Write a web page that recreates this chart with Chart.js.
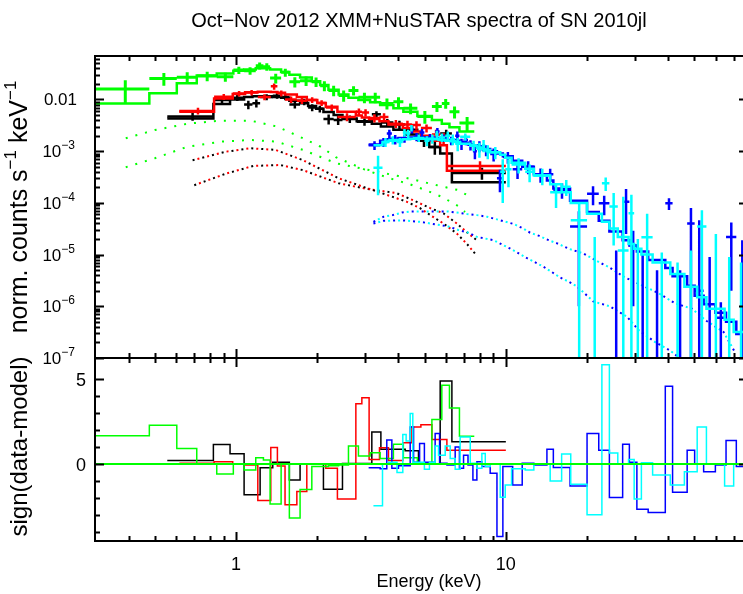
<!DOCTYPE html>
<html>
<head>
<meta charset="utf-8">
<title>SN 2010jl spectra</title>
<script src="https://cdn.jsdelivr.net/npm/chart.js@4.4.0/dist/chart.umd.min.js"></script>
<style>
  body { margin: 0; background: #fff; }
  #wrap { position: relative; width: 743px; height: 594px; overflow: hidden; background: #fff; }
  #wrap canvas { position: absolute; left: 0; top: 0; }
</style>
</head>
<body>
<div id="wrap">
  <canvas id="spec" width="748" height="594"></canvas>
  <canvas id="resid" width="748" height="594"></canvas>
</div>
<script>
// ---- XMM MOS1 (black) ----
const mos1Edges = [0.556, 0.824, 0.950, 1.071, 1.15, 1.228, 1.368, 1.47, 1.576, 1.727, 1.85, 1.98, 2.108, 2.3, 2.48, 2.8, 3.186, 3.442, 3.83, 4.236, 4.745, 5.2, 5.71, 6.31, 10.0];
const mos1Rate = [4.7e-3, 9.8e-3, 0.0108, 8.0e-3, 8.5e-3, 0.0112, 0.0118, 0.0112, 8.0e-3, 9.0e-3, 7.0e-3, 6.6e-3, 4.2e-3, 4.0e-3, 4.2e-3, 3.7e-3, 5.2e-3, 3.6e-3, 3.3e-3, 2.6e-3, 1.6e-3, 1.2e-3, 2.2e-3, 3.8e-4];
const mos1Err = [8e-4, 1.4e-3, 1.4e-3, 1.5e-3, 1.5e-3, 1.5e-3, 1.5e-3, 1.5e-3, 1.3e-3, 1.3e-3, 1.1e-3, 1e-3, 9e-4, 8e-4, 7e-4, 6e-4, 7e-4, 6e-4, 6e-4, 5e-4, 4e-4, 3.5e-4, 4e-4, 1e-4];
const mos1Model = [4.3e-3, 8.2e-3, 0.0100, 0.0112, 0.0115, 0.0115, 0.0112, 0.0108, 9.5e-3, 8.5e-3, 7.5e-3, 6.6e-3, 5.7e-3, 5.0e-3, 4.3e-3, 3.8e-3, 3.4e-3, 3.0e-3, 2.6e-3, 2.1e-3, 1.6e-3, 1.2e-3, 9e-4, 2.5e-4];
const mos1Resid = [0.2, 1.14, 0.6, -1.8, -1.8, -0.21, 0.1, 0.1, -0.93, 0.02, 0.02, 0.02, -1.47, -1.47, 0.03, 0.03, 1.88, 0.87, 0.87, 0.77, 0.02, 0.02, 4.85, 1.3];

// ---- XMM MOS2 (red) ----
const mos2Edges = [0.616, 0.829, 0.972, 1.080, 1.204, 1.345, 1.423, 1.519, 1.680, 1.829, 2.0, 2.151, 2.375, 2.780, 2.926, 3.113, 3.401, 3.672, 4.152, 4.485, 4.843, 5.320, 5.710, 6.046, 10.0];
const mos2Rate = [6.0e-3, 0.0113, 0.0130, 0.0136, 0.0112, 0.0180, 0.0132, 0.0100, 0.0095, 0.0098, 0.0086, 0.0070, 0.0046, 0.0058, 0.0056, 0.0044, 0.0046, 0.0034, 0.0033, 0.0032, 0.0028, 0.0021, 0.0018, 5.2e-4];
const mos2Err = [9e-4, 1.5e-3, 1.6e-3, 1.6e-3, 1.5e-3, 2.5e-3, 1.8e-3, 1.4e-3, 1.3e-3, 1.2e-3, 1.1e-3, 1e-3, 8e-4, 9e-4, 9e-4, 8e-4, 8e-4, 6e-4, 6e-4, 6e-4, 5e-4, 5e-4, 4.5e-4, 1.2e-4];
const mos2Model = [5.8e-3, 0.0105, 0.0128, 0.0138, 0.0142, 0.0140, 0.0135, 0.0125, 0.0112, 0.0098, 0.0086, 0.0072, 0.0058, 0.0049, 0.0045, 0.0042, 0.0038, 0.0033, 0.0028, 0.0024, 0.0020, 0.0016, 0.0013, 4.2e-4];
const mos2Resid = [0.05, 0.14, 0.0, -0.06, -2.13, 0.97, -0.12, -2.38, -1.6, 0.0, 0.0, -0.25, -2.05, 3.53, 3.88, 0.27, 0.95, 0.2, 1.24, 2.17, 2.3, 1.44, 1.44, 0.8];

// ---- XMM pn (green) ----
const pnEdges = [0.30, 0.477, 0.603, 0.715, 0.848, 0.977, 1.071, 1.183, 1.263, 1.337, 1.469, 1.576, 1.727, 1.909, 2.05, 2.2, 2.4, 2.61, 2.842, 3.14, 3.42, 3.83, 4.17, 4.70, 5.32, 5.79, 6.18, 6.73, 7.64];
const pnRate = [0.0160, 0.0255, 0.0270, 0.0285, 0.0275, 0.0370, 0.0360, 0.0450, 0.0430, 0.0260, 0.0335, 0.0220, 0.0230, 0.0220, 0.0185, 0.0150, 0.0120, 0.0150, 0.0110, 0.0110, 0.0084, 0.0090, 0.0068, 0.0047, 0.0073, 0.0084, 0.0058, 0.0035];
const pnErr = [0.0075, 0.0070, 0.0065, 0.0060, 0.0055, 0.0060, 0.0060, 0.0070, 0.0070, 0.0055, 0.0060, 0.0050, 0.0048, 0.0045, 0.0040, 0.0035, 0.0030, 0.0030, 0.0025, 0.0025, 0.0020, 0.0020, 0.0016, 0.0013, 0.0016, 0.0018, 0.0015, 0.0011];
const pnModel = [0.0084, 0.0132, 0.0206, 0.0290, 0.0320, 0.0360, 0.0380, 0.0400, 0.0400, 0.0380, 0.0340, 0.0300, 0.0265, 0.0225, 0.0190, 0.0155, 0.0125, 0.0108, 0.0098, 0.0088, 0.0078, 0.0068, 0.0058, 0.0048, 0.0040, 0.0034, 0.0029, 0.0024];
const pnResid = [1.65, 2.27, 0.91, 0.02, -0.58, 0.02, -0.35, 0.37, 0.23, -2.33, 0.02, -3.16, -1.49, -0.15, -0.15, -0.1, -0.06, 1.05, 0.47, 0.66, 0.33, 1.16, 0.37, 0.02, 2.6, 4.6, 3.27, 1.63];

// ---- NuSTAR FPMA (blue) ----
const fpmaEdges = [3.10, 3.42, 3.62, 3.78, 4.00, 4.42, 4.55, 4.79, 4.99, 5.47, 5.68, 6.05, 6.49, 6.73, 6.97, 7.24, 7.55, 7.81, 8.15, 8.75, 9.27, 9.75, 10.6, 11.5, 12.7, 14.2, 15.0, 17.3, 20.0, 22.1, 24.2, 27.1, 28.7, 30.6, 33.7, 39.0, 41.5, 47.0, 50.1, 54.1, 59.8, 65.5, 71.5, 79];
const fpmaRate = [1.3e-3, 1.5e-3, 2.2e-3, 1.7e-3, 1.75e-3, 2.6e-3, 1.9e-3, 2.3e-3, 1.85e-3, 2.4e-3, 1.8e-3, 1.6e-3, 2.0e-3, 1.4e-3, 1.65e-3, 1.33e-3, 1.0e-3, 1.25e-3, 1.05e-3, 8.8e-4, 3e-4, 7.7e-4, 4.5e-4, 5e-4, 3.55e-4, 3.6e-4, 1.8e-4, 3.5e-5, 1.5e-4, 9.8e-5, -1e-5, 1.05e-4, 1.5e-5, -1e-5, -1e-5, 9.8e-5, -5e-6, 4e-5, 2e-6, -1e-6, 6e-7, 2.2e-5, -1e-6];
const fpmaErr = [2.5e-4, 3e-4, 4e-4, 3.5e-4, 3e-4, 4e-4, 3.5e-4, 4e-4, 3e-4, 4e-4, 3e-4, 3e-4, 4e-4, 3.5e-4, 3.5e-4, 3e-4, 3e-4, 3e-4, 2.5e-4, 2.5e-4, 1.4e-4, 2e-4, 1.6e-4, 1.4e-4, 1.1e-4, 1e-4, 6e-5, 3.4e-5, 6e-5, 4e-5, 2.2e-5, 8e-5, 1.4e-5, 2e-5, 1.5e-5, 2.5e-5, 1e-5, 4e-5, 4.4e-5, 1e-5, 6e-7, 2e-5, 2e-5];
const fpmaModel = [1.35e-3, 1.6e-3, 1.7e-3, 1.75e-3, 1.8e-3, 1.85e-3, 1.85e-3, 1.85e-3, 1.8e-3, 1.8e-3, 1.75e-3, 1.65e-3, 1.6e-3, 1.5e-3, 1.45e-3, 1.35e-3, 1.3e-3, 1.2e-3, 1.1e-3, 1.0e-3, 9e-4, 8e-4, 6.5e-4, 5e-4, 3.6e-4, 2.7e-4, 1.9e-4, 1.1e-4, 6.7e-5, 4.5e-5, 2.8e-5, 1.9e-5, 1.5e-5, 1.15e-5, 7.9e-6, 5.5e-6, 3.8e-6, 2.5e-6, 1.6e-6, 1.1e-6, 7.5e-7, 5e-7, 2.9e-7];
const fpmaResid = [-0.21, -0.27, 1.4, -0.25, -0.1, 2.17, 0.1, 1.2, 0.1, 1.78, 0.05, -0.05, 1.0, -0.25, 0.52, -0.06, -0.93, 0.14, -0.15, -0.54, -4.23, -0.15, -1.22, 0.05, -0.05, 0.87, -0.2, -1.28, 1.78, 0.81, -1.96, 1.16, 0.1, -2.64, -2.83, 4.55, -1.65, 0.81, 0.0, -0.45, -0.06, 1.38, -0.15];

// ---- NuSTAR FPMB (cyan) ----
const fpmbEdges = [3.23, 3.49, 3.67, 3.95, 4.15, 4.27, 4.42, 4.52, 4.99, 5.21, 5.47, 5.63, 5.96, 6.22, 6.49, 6.77, 7.38, 7.81, 8.15, 8.39, 8.75, 9.53, 9.95, 10.5, 11.8, 12.7, 14.6, 16.1, 17.4, 20.0, 22.7, 24.2, 26.0, 28.5, 29.9, 31.8, 35.0, 40.7, 45.9, 51.2, 55.4, 64.7, 69.9, 79];
const fpmbRate = [4.8e-4, 1.5e-3, 1.65e-3, 1.5e-3, 2.3e-3, 2.2e-3, 2.8e-3, 1.8e-3, 1.6e-3, 1.75e-3, 2.1e-3, 1.85e-3, 2.0e-3, 1.7e-3, 1.4e-3, 1.9e-3, 1.3e-3, 1.1e-3, 1.3e-3, 1.0e-3, 9.5e-4, 4e-4, 4.5e-4, 5.5e-4, 4e-4, 3.4e-4, 1.6e-4, 2.06e-4, 4.6e-5, -1e-5, 2.4e-4, 8.5e-5, 1.2e-5, 6.3e-5, -1e-5, 2.17e-5, -5e-6, -3e-6, -2e-6, 3.5e-5, -5e-6, -1e-6, -1e-6];
const fpmbErr = [3.4e-4, 3e-4, 3e-4, 3e-4, 4e-4, 4e-4, 4e-4, 3e-4, 3.5e-4, 3.5e-4, 4e-4, 3.5e-4, 4e-4, 4e-4, 4e-4, 3e-4, 3e-4, 3.5e-4, 3.5e-4, 3e-4, 2.5e-4, 3e-4, 2.5e-4, 1.8e-4, 1.5e-4, 1.2e-4, 8e-5, 7e-5, 5e-5, 3.2e-5, 7e-5, 7e-5, 1.2e-4, 8e-5, 3e-5, 4e-5, 1.6e-5, 1e-5, 1.4e-5, 3.7e-5, 3e-5, 1e-5, 8e-6];
const fpmbModel = [1.3e-3, 1.5e-3, 1.6e-3, 1.65e-3, 1.7e-3, 1.7e-3, 1.75e-3, 1.75e-3, 1.75e-3, 1.7e-3, 1.7e-3, 1.65e-3, 1.6e-3, 1.55e-3, 1.5e-3, 1.4e-3, 1.28e-3, 1.18e-3, 1.1e-3, 1.05e-3, 9.5e-4, 8.5e-4, 7.5e-4, 6e-4, 4.6e-4, 3.4e-4, 2.3e-4, 1.6e-4, 1.0e-4, 6.2e-5, 4.3e-5, 3.2e-5, 2.2e-5, 1.6e-5, 1.3e-5, 1.0e-5, 7e-6, 4.2e-6, 2.4e-6, 1.5e-6, 9e-7, 5.5e-7, 3.2e-7];
const fpmbResid = [-2.44, 0.0, 0.1, -0.5, 1.73, 1.34, 2.95, 0.1, -0.3, 0.1, 1.06, 0.52, 1.06, 0.33, -0.3, 1.58, 0.05, -0.25, 0.62, -0.15, 0.0, -1.94, -1.22, -0.27, -0.35, 0.0, -0.99, 0.58, -1.18, -2.97, 5.81, 0.64, 0.0, 0.27, -2.05, 0.08, -0.64, -1.22, -0.45, 2.17, 0.0, -1.28, 0.0];

// ---- model components (two temperatures) ----
const pnCoolE = [0.39, 0.5, 0.66, 0.88, 1.13, 1.42, 1.77, 2.06, 2.34, 3.0, 3.7, 4.4, 5.02, 5.8, 6.66, 7.06];
const pnCool = [1.78e-3, 2.56e-3, 3.4e-3, 3.9e-3, 3.9e-3, 3.0e-3, 1.78e-3, 1.22e-3, 7.7e-4, 4.4e-4, 3.0e-4, 2.3e-4, 1.78e-4, 1.3e-4, 8.7e-5, 6.7e-5];
const pnHotE = [0.39, 0.5, 0.66, 0.88, 1.13, 1.41, 1.77, 2.36, 3.0, 4.0, 5.0, 6.0, 6.63, 7.13];
const pnHot = [4.9e-4, 7.3e-4, 1.22e-3, 1.53e-3, 1.65e-3, 1.53e-3, 1.06e-3, 5.8e-4, 4.5e-4, 3.3e-4, 2.5e-4, 2.0e-4, 1.78e-4, 1.45e-4];
const mosCoolE = [0.69, 0.92, 1.13, 1.40, 1.77, 2.4, 3.0, 3.72, 4.3, 4.81, 5.25, 5.87, 6.58, 7.18, 7.77];
const mosCool = [6.7e-4, 9.8e-4, 1.14e-3, 1.06e-3, 6.7e-4, 3e-4, 2e-4, 1.36e-4, 1.05e-4, 7.9e-5, 5.8e-5, 4.0e-5, 2.56e-5, 1.6e-5, 9.8e-6];
const mosHotE = [0.70, 0.92, 1.16, 1.46, 1.77, 2.4, 3.0, 3.94, 4.67, 5.25, 5.87, 6.58, 7.27, 7.8];
const mosHot = [2.2e-4, 3.7e-4, 5.2e-4, 5.4e-4, 4.3e-4, 2.4e-4, 1.9e-4, 1.54e-4, 1.05e-4, 7.9e-5, 6.3e-5, 4e-5, 2.56e-5, 1.9e-5];
const nuAE = [3.23, 3.52, 3.8, 4.12, 4.42, 4.81, 5.25, 6.12, 6.58, 7.18, 7.81, 8.51, 9.27, 10.7, 11.6, 12.3, 13.3, 14.4, 15.5, 17.1, 19.4, 22.3, 24.0, 25.9, 27.7, 36.8, 42.4, 48.9, 55.5, 64.1, 70.1];
const nuA = [4.3e-5, 5.4e-5, 5.8e-5, 6.5e-5, 6.8e-5, 6.8e-5, 6.8e-5, 6.8e-5, 6.5e-5, 6.1e-5, 5.8e-5, 5.4e-5, 4.8e-5, 3.9e-5, 3.2e-5, 2.65e-5, 2.3e-5, 1.9e-5, 1.65e-5, 1.3e-5, 1.05e-5, 7e-6, 5.8e-6, 4.5e-6, 3.6e-6, 1.8e-6, 1.14e-6, 9e-7, 5.2e-7, 3.2e-7, 1.4e-7];
const nuBE = [3.23, 3.52, 4.12, 4.81, 5.25, 6.12, 6.66, 7.27, 7.81, 9.0, 10.4, 11.2, 12.0, 12.9, 13.8, 14.9, 15.9, 17.1, 18.4, 21.1, 24.3, 28.1, 31.0, 35.9, 40.6, 44.0];
const nuB = [4.0e-5, 4.5e-5, 4.6e-5, 4.3e-5, 4.0e-5, 3.5e-5, 3.0e-5, 2.65e-5, 2.2e-5, 1.9e-5, 1.3e-5, 1.05e-5, 8.5e-6, 7e-6, 5.8e-6, 4.5e-6, 3.6e-6, 3.0e-6, 2.4e-6, 1.24e-6, 1.0e-6, 6.3e-7, 3.5e-7, 2e-7, 1.4e-7, 1e-7];

// ---- axes ----
const eMin = 0.3, eMax = 79;
const rateMin = 1e-7, rateMax = 0.0694;
const residMin = -4.5, residMax = 6.2;
const xMajor = [1, 10];
const xMinor = [0.4, 0.5, 0.6, 0.7, 0.8, 0.9, 2, 3, 4, 5, 6, 7, 8, 9, 20, 30, 40, 50, 60, 70];
const rateDecades = [-7, -6, -5, -4, -3, -2];
const residTicks = [-4, -3, -2, -1, 0, 1, 2, 3, 4, 5];
const residMajor = [0, 5];

const FONT = '"Liberation Sans", Arial, Helvetica, sans-serif';
const BLACK = '#000000', RED = '#ff0000', GREEN = '#00ff00', BLUE = '#0000ff', CYAN = '#00ffff';

// histogram outline from bin edges
function steps(edges, vals) {
  const pts = [];
  vals.forEach((v, i) => { pts.push({x: edges[i], y: v}, {x: edges[i + 1], y: v}); });
  return pts;
}

// data crosses: horizontal bin width plus vertical 1-sigma bar
function crosses(edges, vals, errs) {
  const pts = [];
  vals.forEach((v, i) => {
    const lo = edges[i], hi = edges[i + 1], mid = (lo + hi) / 2;
    if (v > 0) pts.push({x: lo, y: v}, {x: hi, y: v}, {x: hi, y: null});
    const bot = v - errs[i];
    pts.push({x: mid, y: bot > 0 ? bot : 1e-9}, {x: mid, y: v + errs[i]}, {x: mid, y: null});
  });
  return pts;
}

function curve(es, vs) { return es.map((e, i) => ({x: e, y: vs[i]})); }

function lineSet(data, color, width, order, extra) {
  return Object.assign({data, borderColor: color, borderWidth: width, pointRadius: 0,
    fill: false, tension: 0, spanGaps: false, order}, extra || {});
}

// superscript-aware text drawing, parts: [text, size, rise]
function rich(ctx, parts, x, y, align) {
  let total = 0;
  const w = parts.map(p => { ctx.font = p[1] + 'px ' + FONT; const m = ctx.measureText(p[0]).width; total += m; return m; });
  let cx = align === 'right' ? x - total : align === 'center' ? x - total / 2 : x;
  ctx.textAlign = 'left';
  ctx.textBaseline = 'alphabetic';
  parts.forEach((p, i) => { ctx.font = p[1] + 'px ' + FONT; ctx.fillText(p[0], cx, y - (p[2] || 0)); cx += w[i]; });
}

function xTicks(chart) {
  const {ctx, chartArea: a, scales: {x}} = chart;
  ctx.beginPath();
  xMajor.concat(xMinor).forEach(v => {
    const len = xMajor.includes(v) ? 9 : 5;
    const px = Math.round(x.getPixelForValue(v)) + 0.5;
    ctx.moveTo(px, a.bottom); ctx.lineTo(px, a.bottom - len);
    ctx.moveTo(px, a.top); ctx.lineTo(px, a.top + len);
  });
  ctx.stroke();
}

function yTick(ctx, a, py, len) {
  py = Math.round(py) + 0.5;
  ctx.moveTo(a.left, py); ctx.lineTo(a.left + len, py);
  ctx.moveTo(a.right, py); ctx.lineTo(a.right - len, py);
}

const specFrame = {
  id: 'specFrame',
  afterDraw(chart) {
    const {ctx, chartArea: a, scales: {y}} = chart;
    ctx.save();
    ctx.strokeStyle = BLACK; ctx.fillStyle = BLACK; ctx.lineWidth = 2;
    ctx.strokeRect(a.left, a.top, a.right - a.left, a.bottom - a.top);
    xTicks(chart);
    ctx.beginPath();
    rateDecades.forEach(d => {
      for (let m = 1; m <= 9; m++) {
        const v = m * Math.pow(10, d);
        if (v > rateMax) break;
        yTick(ctx, a, y.getPixelForValue(v), m === 1 ? 9 : 5);
      }
    });
    ctx.stroke();
    ctx.fillStyle = BLACK;
    rateDecades.forEach(d => {
      const py = y.getPixelForValue(Math.pow(10, d)) + 6;
      if (d === -2) rich(ctx, [['0.01', 17]], 77, py, 'right');
      else rich(ctx, [['10', 17], ['\u2212' + (-d), 12, 8]], 75, py, 'right');
    });
    rich(ctx, [['Oct\u2212Nov 2012 XMM+NuSTAR spectra of SN 2010jl', 20]], 419, 27, 'center');
    ctx.save();
    ctx.translate(27, (a.top + a.bottom) / 2);
    ctx.rotate(-Math.PI / 2);
    rich(ctx, [['norm. counts s', 25], ['\u22121', 17, 11], [' keV', 25], ['\u22121', 17, 11]], 0, 0, 'center');
    ctx.restore();
    ctx.restore();
  }
};

const residFrame = {
  id: 'residFrame',
  afterDraw(chart) {
    const {ctx, chartArea: a, scales: {x, y}} = chart;
    ctx.save();
    ctx.strokeStyle = BLACK; ctx.fillStyle = BLACK; ctx.lineWidth = 2;
    ctx.strokeRect(a.left, a.top, a.right - a.left, a.bottom - a.top);
    xTicks(chart);
    ctx.beginPath();
    residTicks.forEach(v => yTick(ctx, a, y.getPixelForValue(v), residMajor.includes(v) ? 9 : 5));
    ctx.stroke();
    residMajor.forEach(v => rich(ctx, [[String(v), 18]], 86, y.getPixelForValue(v) + 7, 'right'));
    xMajor.forEach(v => rich(ctx, [[String(v), 18]], x.getPixelForValue(v), 570, 'center'));
    rich(ctx, [['Energy (keV)', 18]], 429, 587, 'center');
    ctx.save();
    ctx.translate(27, (a.top + a.bottom) / 2 - 3);
    ctx.rotate(-Math.PI / 2);
    rich(ctx, [['sign(data-model)', 24]], 0, 0, 'center');
    ctx.restore();
    ctx.restore();
  }
};

const common = {
  responsive: false,
  animation: false,
  events: [],
  plugins: { legend: { display: false }, tooltip: { enabled: false } }
};

new Chart(document.getElementById('spec'), {
  type: 'line',
  data: {
    datasets: [
      lineSet(crosses(fpmbEdges, fpmbRate, fpmbErr), CYAN, 2.5, 1),
      lineSet(steps(fpmbEdges, fpmbModel), CYAN, 2.5, 2),
      lineSet(crosses(fpmaEdges, fpmaRate, fpmaErr), BLUE, 2.5, 3),
      lineSet(steps(fpmaEdges, fpmaModel), BLUE, 2.5, 4),
      lineSet(crosses(pnEdges, pnRate, pnErr), GREEN, 3, 5),
      lineSet(steps(pnEdges, pnModel), GREEN, 2.5, 6),
      lineSet(crosses(mos2Edges, mos2Rate, mos2Err), RED, 2.5, 7),
      lineSet(steps(mos2Edges, mos2Model), RED, 2.5, 8),
      lineSet(crosses(mos1Edges, mos1Rate, mos1Err), BLACK, 2.5, 9),
      lineSet(steps(mos1Edges, mos1Model), BLACK, 2.5, 10),
      lineSet(curve(nuAE, nuA), CYAN, 2, 11, {borderDash: [2, 8], borderDashOffset: 5}),
      lineSet(curve(nuAE, nuA), BLUE, 2, 12, {borderDash: [2, 8]}),
      lineSet(curve(nuBE, nuB), CYAN, 2, 13, {borderDash: [2, 8], borderDashOffset: 5}),
      lineSet(curve(nuBE, nuB), BLUE, 2, 14, {borderDash: [2, 8]}),
      lineSet(curve(pnCoolE, pnCool), GREEN, 2, 15, {borderDash: [2, 8]}),
      lineSet(curve(pnHotE, pnHot), GREEN, 2, 16, {borderDash: [2, 8]}),
      lineSet(curve(mosCoolE, mosCool), RED, 2, 17, {borderDash: [2, 8], borderDashOffset: 5}),
      lineSet(curve(mosCoolE, mosCool), BLACK, 2, 18, {borderDash: [2, 8]}),
      lineSet(curve(mosHotE, mosHot), RED, 2, 19, {borderDash: [2, 8], borderDashOffset: 5}),
      lineSet(curve(mosHotE, mosHot), BLACK, 2, 20, {borderDash: [2, 8]})
    ]
  },
  options: Object.assign({}, common, {
    layout: { padding: { left: 95, right: 0, top: 56, bottom: 236 } },
    scales: {
      x: { type: 'logarithmic', min: eMin, max: eMax, display: false },
      y: { type: 'logarithmic', min: rateMin, max: rateMax, display: false }
    }
  }),
  plugins: [specFrame]
});

new Chart(document.getElementById('resid'), {
  type: 'line',
  data: {
    datasets: [
      lineSet([{x: eMin, y: 0}, {x: eMax, y: 0}], GREEN, 2, 0),
      lineSet(steps(fpmbEdges, fpmbResid), CYAN, 1.5, 1),
      lineSet(steps(fpmaEdges, fpmaResid), BLUE, 1.5, 2),
      lineSet(steps(pnEdges, pnResid), GREEN, 1.5, 3),
      lineSet(steps(mos2Edges, mos2Resid), RED, 1.5, 4),
      lineSet(steps(mos1Edges, mos1Resid), BLACK, 1.5, 5)
    ]
  },
  options: Object.assign({}, common, {
    layout: { padding: { left: 95, right: 0, top: 358, bottom: 53 } },
    scales: {
      x: { type: 'logarithmic', min: eMin, max: eMax, display: false },
      y: { type: 'linear', min: residMin, max: residMax, display: false }
    }
  }),
  plugins: [residFrame]
});
</script>
</body>
</html>
